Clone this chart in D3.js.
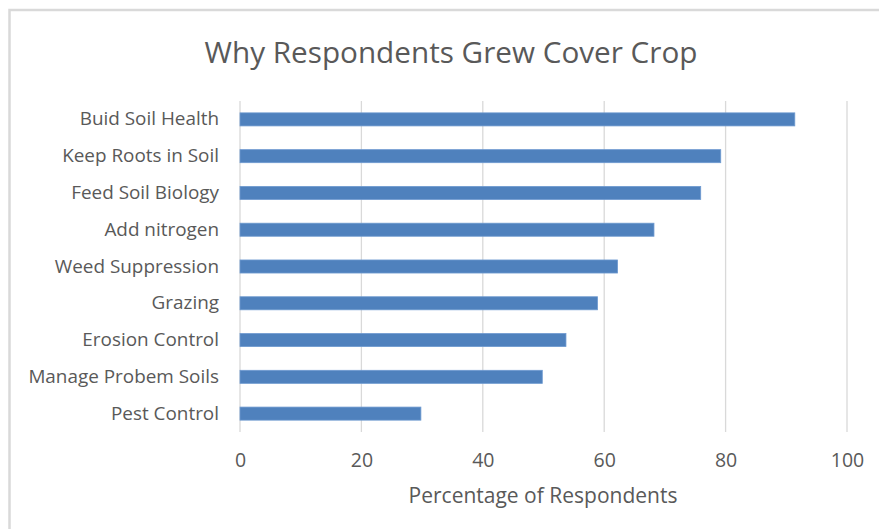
<!DOCTYPE html>
<html>
<head>
<meta charset="utf-8">
<script src="https://cdn.jsdelivr.net/npm/d3@7"></script>
<style>
  html, body { margin: 0; padding: 0; background: #fff; }
  svg { display: block; }
  text { font-family: "Open Sans", "Noto Sans", sans-serif; fill: #595959; }
</style>
</head>
<body>
<svg id="chart" width="879" height="529"></svg>
<script>
// Reasons for growing cover crops, percentage of respondents
const categories = [
  "Buid Soil Health",
  "Keep Roots in Soil",
  "Feed Soil Biology",
  "Add nitrogen",
  "Weed Suppression",
  "Grazing",
  "Erosion Control",
  "Manage Probem Soils",
  "Pest Control"
];
const values = [91.4, 79.2, 75.9, 68.2, 62.2, 58.9, 53.7, 49.8, 29.8];
const xTicks = [0, 20, 40, 60, 80, 100];
const chartTitle = "Why Respondents Grew Cover Crop";
const xAxisTitle = "Percentage of Respondents";

const svg = d3.select("#chart");
const W = 879, H = 529;
const margin = { top: 101, right: 32, bottom: 97, left: 240 };

// Chart frame
svg.append("rect")
  .attr("x", 9.5).attr("y", 10).attr("width", W + 10).attr("height", H + 10)
  .attr("fill", "#fff").attr("stroke", "#d9d9d9").attr("stroke-width", 2.5);

const x = d3.scaleLinear().domain([0, 100]).range([margin.left, W - margin.right]);
const y = d3.scaleBand().domain(categories)
  .range([margin.top, H - margin.bottom]).paddingInner(0.645).paddingOuter(0.3225);

// Vertical gridlines
svg.append("g").selectAll("line").data(xTicks).join("line")
  .attr("x1", d => x(d)).attr("x2", d => x(d))
  .attr("y1", margin.top).attr("y2", H - margin.bottom)
  .attr("stroke", "#d9d9d9").attr("stroke-width", 1.3);

// Bars
svg.append("g").selectAll("rect").data(values).join("rect")
  .attr("x", x(0))
  .attr("y", (d, i) => y(categories[i]))
  .attr("width", d => x(d) - x(0))
  .attr("height", y.bandwidth())
  .attr("fill", "#4f81bd")
  .attr("stroke", "#6e9ad0").attr("stroke-width", 0.8);

// Category labels
const yAxis = svg.append("g")
  .attr("transform", `translate(${margin.left},0)`)
  .call(d3.axisLeft(y).tickSize(0).tickPadding(21));
yAxis.select(".domain").remove();
yAxis.selectAll("text").style("font-size", "18.9px").attr("fill", "#595959");

// Value axis labels
const xAxis = svg.append("g")
  .attr("transform", `translate(0,${H - margin.bottom})`)
  .call(d3.axisBottom(x).tickValues(xTicks).tickSize(0).tickPadding(21));
xAxis.select(".domain").remove();
xAxis.selectAll("text").style("font-size", "19.5px").attr("fill", "#595959");

// Titles
svg.append("text")
  .attr("x", 451).attr("y", 63)
  .attr("text-anchor", "middle")
  .style("font-size", "29.7px")
  .text(chartTitle);

svg.append("text")
  .attr("x", 543).attr("y", 503)
  .attr("text-anchor", "middle")
  .style("font-size", "21px")
  .text(xAxisTitle);
</script>
</body>
</html>
